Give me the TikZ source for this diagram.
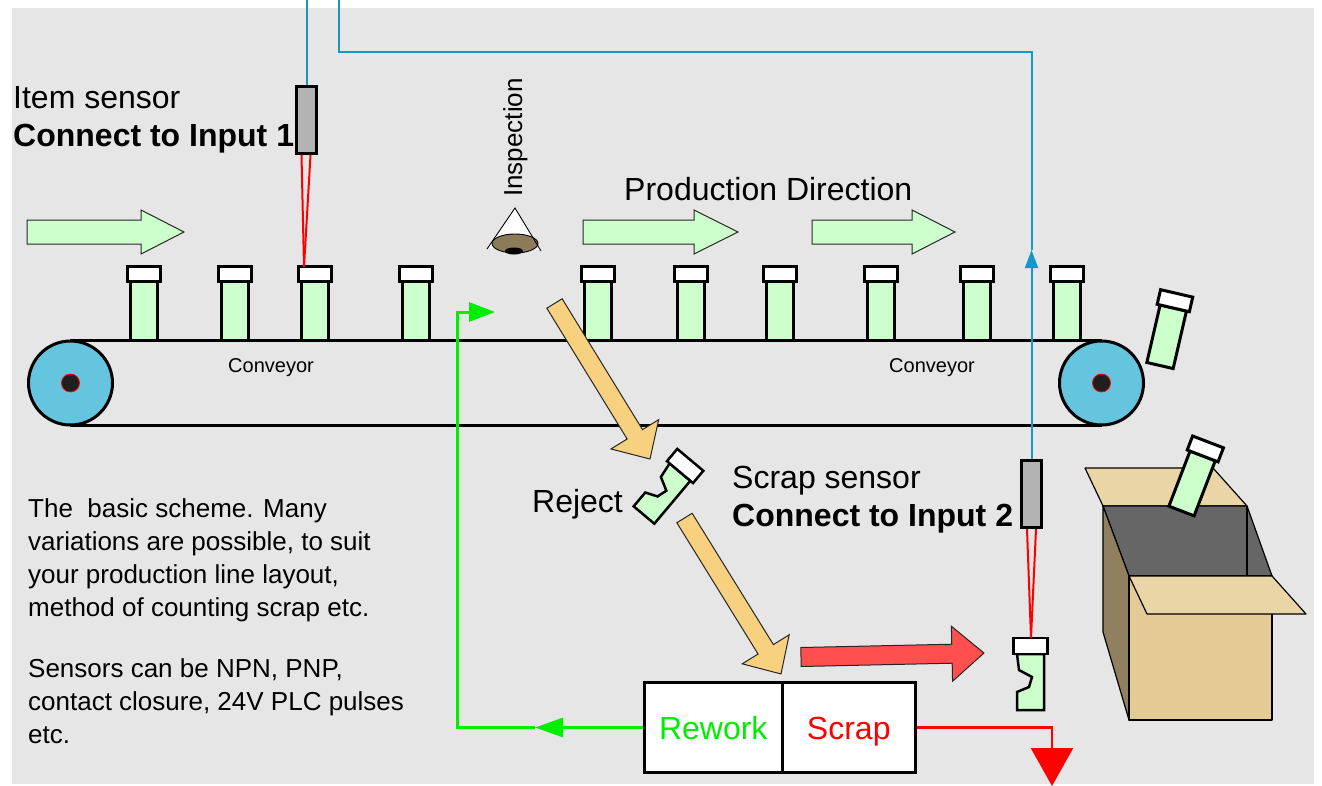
\documentclass[tikz,border=0pt]{standalone}
\usepackage{fontspec}
\setmainfont{Liberation Sans}
\usetikzlibrary{arrows.meta}

\definecolor{bg}{HTML}{E6E6E6}
\definecolor{bottlegreen}{HTML}{CCFFCC}
\definecolor{wire}{HTML}{1399C6}
\definecolor{roller}{HTML}{66C5DE}
\definecolor{sensorgray}{HTML}{B3B3B3}
\definecolor{orangearrow}{HTML}{F7D17F}
\definecolor{redarrow}{HTML}{FF4F4F}
\definecolor{reworkgreen}{HTML}{00EE00}
\definecolor{flap}{HTML}{E9D5A5}
\definecolor{boxfront}{HTML}{E4CA94}
\definecolor{boxside}{HTML}{918060}
\definecolor{boxinside}{HTML}{666666}
\definecolor{eyebrown}{HTML}{8C7B58}

\tikzset{
  pics/bottle/.style={code={
    \draw[line width=3pt, fill=bottlegreen] (-13.5,0) rectangle (13.5,-59);
    \draw[line width=3pt, fill=white] (-16.5,-59) rectangle (16.5,-74);
  }},
  pics/badbottle/.style={code={
    \draw[line width=2.5pt, fill=bottlegreen] (-13.5,0) -- (-13.5,-18) -- (-1.5,-23)
      -- (1.5,-33) -- (-11.5,-40) -- (-13.5,-56) -- (13.5,-56) -- (13.5,0) -- cycle;
    \draw[line width=2.5pt, fill=white] (-17,-56) rectangle (17,-72);
  }},
  arrowline/.style={draw=black!85, line width=1pt, line join=miter},
  sensor/.style={draw, line width=3pt, fill=sensorgray, minimum width=20pt,
    minimum height=67pt, inner sep=0pt},
  wireline/.style={wire, line width=2pt},
  beam/.style={red, line width=2pt},
  greenline/.style={reworkgreen, line width=3pt},
  redline/.style={red, line width=2.5pt},
  half/.style={draw, line width=3pt, fill=white, minimum height=90pt, inner sep=0pt,
    text height=23pt, text depth=0pt, font=\fontsize{32}{38}\selectfont},
  lbl/.style={inner sep=0pt, anchor=base west, font=\fontsize{32}{38}\selectfont},
  lblbold/.style={lbl, font=\bfseries\fontsize{32}{38}\selectfont},
  small/.style={inner sep=0pt, anchor=base west, font=\fontsize{20}{24}\selectfont},
  note/.style={inner sep=0pt, anchor=base west, font=\fontsize{26}{33}\selectfont},
  boxface/.style={draw=black, line width=1.2pt, line join=round},
}

% block arrow: tail centre, angle, total length, head length, shaft half width, head half width, fill
\newcommand\blockarrow[7]{%
  \begin{scope}[shift={(#1)}, rotate=#2]
    \draw[arrowline, fill=#7] (0,-#5) -- ({#3-#4},-#5) -- ({#3-#4},-#6) -- (#3,0)
      -- ({#3-#4},#6) -- ({#3-#4},#5) -- (0,#5) -- cycle;
  \end{scope}}

\begin{document}
\begin{tikzpicture}[x=1pt, y=-1pt]
\useasboundingbox (0,0) rectangle (1322,785);
\fill[bg] (12,8) rectangle (1314,784);

% conveyor belt and rollers
\draw[line width=3pt] (70,340) -- (1102,340);
\draw[line width=3pt] (70,425.5) -- (1102,425.5);
\foreach \cx in {70.5,1101.5}{
  \draw[line width=3pt, fill=roller] (\cx,383) circle (42);
  \draw[red, line width=0.8pt, fill=black!88] (\cx,383) circle (9);
}
\node[small] (conv1) at (228,372) {Conveyor};
\node[small] (conv2) at (889,372) {Conveyor};

% items on the belt
\foreach \bx in {144,235,315,416,598,691,780,881,977,1067}
  \pic at (\bx,340) {bottle};
\pic[rotate=-13] at (1160,365.5) {bottle};

% production direction arrows
\blockarrow{27,232}{0}{157}{43}{12}{22}{bottlegreen}
\blockarrow{583,232}{0}{155}{44}{12}{22}{bottlegreen}
\blockarrow{812,232}{0}{143}{43}{12}{22}{bottlegreen}
\node[lbl] (proddir) at (624,200) {Production Direction};

% item sensor
\coordinate (cap1) at (304,267);
\coordinate (top1) at (306.5,-2);
\node[sensor] (s1) at (306.5,120) {};
\draw[beam] ([xshift=-5pt]s1.south) -- (cap1);
\draw[beam] ([xshift=4pt]s1.south) -- (cap1);
\draw[wireline] (s1.north) -- (top1);
\node[lbl] (itemsensor) at (13,108) {Item sensor};
\node[lblbold] (in1) at (13,146) {Connect to Input 1};

% inspection eye
\fill[white] (515,208) -- (487,248) -- (541,250) -- cycle;
\draw[line width=0.9pt, fill=eyebrown] (515,243.5) ellipse [x radius=23, y radius=9.5];
\fill[black] (514,251) ellipse [x radius=9, y radius=3.5];
\draw[line width=0.9pt] (487,249) -- (515,208) -- (541,251);
\node[inner sep=0pt, anchor=base west, rotate=90, font=\fontsize{26}{30}\selectfont]
  (insp) at (522,197) {Inspection};

% reject path
\blockarrow{554.5,303.5}{-58.45}{182.5}{29}{9}{28}{orangearrow}
\pic[rotate=-40] at (644,515) {badbottle};
\node[lbl] (reject) at (532,512) {Reject};
\blockarrow{684.5,518}{-58.26}{183.4}{29}{9}{27.6}{orangearrow}
\blockarrow{801,657}{1.25}{183}{32}{9.5}{27.5}{redarrow}

% scrap sensor
\pic at (1030.5,710) {badbottle};
\coordinate (cap2) at (1031,638);
\node[sensor] (s2) at (1031.5,494) {};
\draw[beam] ([xshift=-4.5pt]s2.south) -- (cap2);
\draw[beam] ([xshift=4.5pt]s2.south) -- (cap2);
\coordinate (arrowpt) at (1031.5,250);
\coordinate (bend) at (1031.5,52);
\coordinate (top2) at (339,-2);
\draw[wireline, -{Triangle[length=18pt,width=13pt]}] (s2.north) -- (arrowpt);
\draw[wireline] (arrowpt) -- (bend) -| (top2);
\node[lbl] (scrapsensor) at (732,488) {Scrap sensor};
\node[lblbold] (in2) at (732,526) {Connect to Input 2};

% scrap box
\draw[boxface, fill=flap] (1085,468) -- (1213,468) -- (1247,506) -- (1103,506) -- cycle;
\draw[boxface, fill=boxinside] (1103,506) -- (1247,506) -- (1272,576) -- (1129,576) -- cycle;
\draw[boxface] (1247,506) -- (1247,576);
\draw[boxface, fill=boxside] (1103,506) -- (1103,632) -- (1129,720) -- (1129,576) -- cycle;
\draw[boxface, fill=boxfront] (1129,576) rectangle (1272,720);
\draw[boxface, fill=flap] (1129,576) -- (1272,576) -- (1306,614) -- (1147,614) -- cycle;
\pic[rotate=-21] at (1181.5,511) {bottle};

% rework / scrap station
\node[half, minimum width=137.5pt, text=reworkgreen] (rw) at (713.25,727.5) {Rework};
\node[half, minimum width=133.5pt, text=red] (sc) at (848.75,727.5) {Scrap};
\coordinate (g1) at (535,727.5);
\coordinate (g2) at (457,727.5);
\coordinate (g3) at (495,312);
\draw[greenline, -{Triangle[length=28pt,width=19pt]}] (rw.west) -- (g1);
\draw[greenline, -{Triangle[length=26pt,width=19pt]}] (g1) -- (g2) |- (g3);
\coordinate (drop) at (1052,786);
\draw[redline, -{Triangle[length=38pt,width=42pt]}] (sc.east) -| (drop);

% notes
\node[note] (n1) at (28,517) {The\ \ basic scheme. Many};
\node[note] (n2) at (28,550) {variations are possible, to suit};
\node[note] (n3) at (28,583) {your production line layout,};
\node[note] (n4) at (28,616) {method of counting scrap etc.};
\node[note] (n5) at (28,677) {Sensors can be NPN, PNP,};
\node[note] (n6) at (28,710) {contact closure, 24V PLC pulses};
\node[note] (n7) at (28,743) {etc.};
\end{tikzpicture}
\end{document}
